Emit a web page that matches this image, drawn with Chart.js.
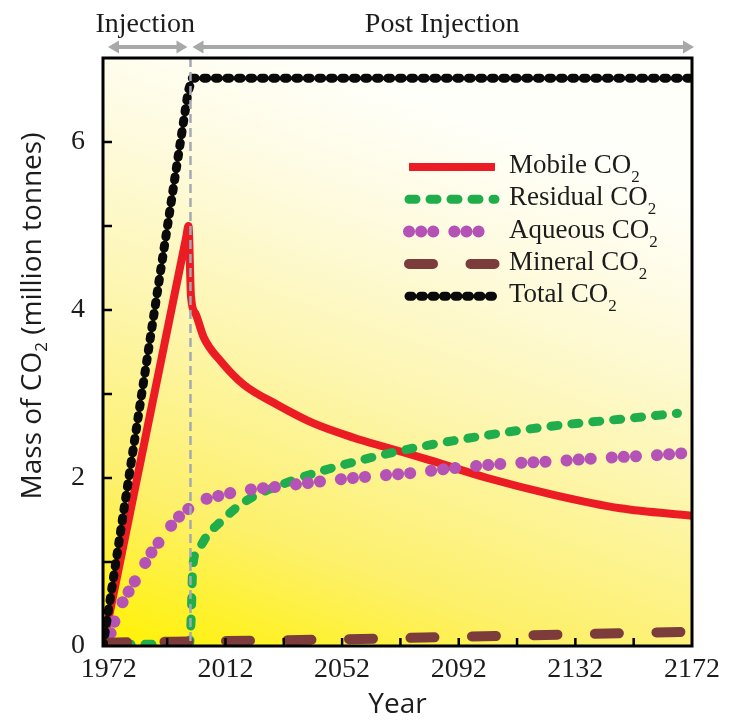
<!DOCTYPE html>
<html>
<head>
<meta charset="utf-8">
<script src="https://cdn.jsdelivr.net/npm/chart.js@4.4.1/dist/chart.umd.min.js"></script>
<style>
  html, body { margin: 0; padding: 0; background: #fff; }
</style>
</head>
<body>
<canvas id="chart" width="739" height="723"></canvas>
<script>
// Data (year, million tonnes)
const mobileYears  = [1970, 1980, 1990, 1998.6, 1999.3, 2000.2, 2001.8, 2004.6, 2010.4, 2018.3, 2029.9, 2042.3, 2056, 2067.6, 2082.3, 2101.8, 2124.5, 2147.4, 2172];
const mobileMass   = [0,    1.71, 3.41, 4.88,   5.0,    4.15,   3.95,   3.67,   3.39,   3.11,   2.87,   2.65,   2.48, 2.36,   2.21,   2.0,    1.80,   1.64,   1.55];

const residualYears = [1970, 1999.6, 2000.2, 2000.8, 2003, 2006, 2010.4, 2016.2, 2021.7, 2033.4, 2044.7, 2056, 2067.6, 2080, 2101.8, 2124.5, 2147.4, 2167];
const residualMass  = [0.02, 0.02,   0.3,    0.95,   1.17, 1.33, 1.48,   1.66,   1.78,   1.95,   2.08,   2.19, 2.29,   2.38, 2.51,   2.62,   2.70,   2.77];

const aqueousYears = [1970.5, 1972, 1975, 1978.5, 1982.3, 1986, 1989.5, 1995.5, 2000, 2003, 2010, 2018, 2028, 2040, 2050, 2062, 2076, 2091, 2108, 2125, 2142, 2159, 2171];
const aqueousMass  = [0.03,   0.1,  0.4,  0.63,   0.85,   1.08, 1.25,   1.52,   1.65, 1.72, 1.79, 1.85, 1.89, 1.94, 1.98, 2.02, 2.06, 2.12, 2.17, 2.20, 2.24, 2.27, 2.30];

const mineralYears = [1970, 2012, 2052, 2092, 2132, 2172];
const mineralMass  = [0.04, 0.06, 0.08, 0.11, 0.14, 0.17];

const totalYears = [1970, 1999.2, 2000.6, 2172];
const totalMass  = [0,    6.6,    6.76,   6.76];

const seriesNames = ['Mobile', 'Residual', 'Aqueous', 'Mineral', 'Total'];

const xTickYears  = [1972, 2012, 2052, 2092, 2132, 2172];
const xMinorYears = [1992, 2012, 2032, 2052, 2072, 2092, 2112, 2132, 2152];
const yTickValues = [0, 2, 4, 6];
const yMinorValues = [1, 2, 3, 4, 5, 6];

const injectionStart = 1970;
const injectionEnd = 2000;
const simulationEnd = 2172;

const toPoints = (xs, ys) => xs.map((x, i) => ({ x: x, y: ys[i] }));

const serif = '"Liberation Serif", "Times New Roman", serif';
const sans = '"Open Sans", "DejaVu Sans", sans-serif';
const textColor = '#1c1c1c';

// yellow wash behind the curves
const plotBackground = {
    id: 'plotBackground',
    beforeDatasetsDraw(chart) {
        const { ctx, chartArea: a } = chart;
        const g = ctx.createLinearGradient(a.left, a.bottom, a.left + a.width * 0.35, a.top);
        g.addColorStop(0, '#fff200');
        g.addColorStop(0.25, '#fdf06a');
        g.addColorStop(0.55, '#fdf6b2');
        g.addColorStop(0.8, '#fefbe0');
        g.addColorStop(1, '#fffffa');
        ctx.save();
        ctx.fillStyle = g;
        ctx.fillRect(a.left, a.top, a.width, a.height);
        ctx.restore();
    }
};

function drawArrow(ctx, x1, x2, y) {
    const head = 11, half = 6.5;
    ctx.beginPath();
    ctx.moveTo(x1 + head - 1, y);
    ctx.lineTo(x2 - head + 1, y);
    ctx.stroke();
    ctx.beginPath();
    ctx.moveTo(x1, y); ctx.lineTo(x1 + head, y - half); ctx.lineTo(x1 + head, y + half); ctx.closePath();
    ctx.fill();
    ctx.beginPath();
    ctx.moveTo(x2, y); ctx.lineTo(x2 - head, y - half); ctx.lineTo(x2 - head, y + half); ctx.closePath();
    ctx.fill();
}

function drawCO2(ctx, prefix, x, y, bigFont, smallFont, drop) {
    ctx.font = bigFont;
    ctx.fillText(prefix, x, y);
    const w = ctx.measureText(prefix).width;
    ctx.font = smallFont;
    ctx.fillText('2', x + w, y + drop);
    return w + ctx.measureText('2').width;
}

const overlay = {
    id: 'overlay',
    afterDraw(chart) {
        const { ctx, chartArea: a, scales: { x, y } } = chart;
        ctx.save();

        // end of injection
        const xi = x.getPixelForValue(injectionEnd);
        ctx.strokeStyle = '#a3a9b3';
        ctx.lineWidth = 2.5;
        ctx.setLineDash([9, 5]);
        ctx.beginPath();
        ctx.moveTo(xi, a.top);
        ctx.lineTo(xi, a.bottom);
        ctx.stroke();
        ctx.setLineDash([]);

        // inward ticks
        ctx.strokeStyle = '#000';
        ctx.lineWidth = 2.5;
        yMinorValues.forEach(v => {
            const py = y.getPixelForValue(v);
            ctx.beginPath(); ctx.moveTo(a.left, py); ctx.lineTo(a.left + 9, py); ctx.stroke();
        });
        xMinorYears.forEach(v => {
            const px = x.getPixelForValue(v);
            ctx.beginPath(); ctx.moveTo(px, a.bottom); ctx.lineTo(px, a.bottom - 8); ctx.stroke();
        });

        // frame
        ctx.lineWidth = 3;
        ctx.strokeRect(a.left, a.top, a.width, a.height);

        // legend
        const metas = chart.data.datasets;
        ctx.fillStyle = textColor;
        ctx.textBaseline = 'alphabetic';
        ctx.textAlign = 'left';
        seriesNames.forEach((name, i) => {
            const ds = metas[i];
            const base = 173 + i * 32.3;
            ctx.save();
            ctx.strokeStyle = ds.borderColor;
            ctx.lineWidth = ds.borderWidth;
            ctx.lineCap = ds.borderCapStyle || 'butt';
            ctx.setLineDash(ds.borderDash || []);
            ctx.beginPath();
            ctx.moveTo(409, base - 6);
            ctx.lineTo(495, base - 6);
            ctx.stroke();
            ctx.restore();
            drawCO2(ctx, name + ' CO', 509, base, '27px ' + serif, '17px ' + serif, 9);
        });

        // injection periods
        ctx.fillStyle = '#a8a8a8';
        ctx.strokeStyle = '#a8a8a8';
        ctx.lineWidth = 4;
        const xs = x.getPixelForValue(injectionStart) + 5;
        const xe = x.getPixelForValue(simulationEnd) + 2;
        drawArrow(ctx, xs, xi - 3, 47);
        drawArrow(ctx, xi + 2, xe, 47);
        ctx.fillStyle = textColor;
        ctx.font = '28px ' + serif;
        ctx.textAlign = 'center';
        ctx.fillText('Injection', (xs + xi) / 2 - 4, 32);
        ctx.fillText('Post Injection', (xi + xe) / 2, 32);

        // y axis title with subscript
        ctx.translate(41, 316);
        ctx.rotate(-Math.PI / 2);
        ctx.textAlign = 'left';
        const big = '28px ' + sans, small = '17px ' + sans;
        ctx.font = big;
        const w1 = ctx.measureText('Mass of CO').width;
        const w3 = ctx.measureText(' (million tonnes)').width;
        ctx.font = small;
        const w2 = ctx.measureText('2').width;
        let tx = -(w1 + w2 + w3) / 2;
        tx += drawCO2(ctx, 'Mass of CO', tx, 0, big, small, 6);
        ctx.font = big;
        ctx.fillText(' (million tonnes)', tx, 0);

        ctx.restore();
    }
};

const lineBase = {
    pointRadius: 0,
    fill: false,
    borderCapStyle: 'round',
    borderJoinStyle: 'round',
    cubicInterpolationMode: 'monotone'
};

new Chart(document.getElementById('chart'), {
    type: 'line',
    data: {
        datasets: [
            { ...lineBase, label: 'Mobile CO2', data: toPoints(mobileYears, mobileMass),
              borderColor: '#ec1c24', borderWidth: 8, borderCapStyle: 'butt', borderJoinStyle: 'miter', order: 5 },
            { ...lineBase, label: 'Residual CO2', data: toPoints(residualYears, residualMass),
              borderColor: '#20ad4b', borderWidth: 9, borderDash: [7, 14], order: 4 },
            { ...lineBase, label: 'Aqueous CO2', data: toPoints(aqueousYears, aqueousMass),
              borderColor: '#b552b5', borderWidth: 12, borderDash: [0.1, 12, 0.1, 12, 0.1, 21], order: 3 },
            { ...lineBase, label: 'Mineral CO2', data: toPoints(mineralYears, mineralMass),
              borderColor: '#7d3c3c', borderWidth: 10, borderDash: [24, 37.5], order: 2 },
            { ...lineBase, label: 'Total CO2', data: toPoints(totalYears, totalMass),
              borderColor: '#0a0a0a', borderWidth: 9, borderDash: [3, 8.5], cubicInterpolationMode: 'default', tension: 0, order: 1 }
        ]
    },
    options: {
        responsive: false,
        animation: false,
        layout: { padding: { top: 58, right: 47, left: 0, bottom: 0 } },
        plugins: {
            legend: { display: false },
            tooltip: { enabled: false }
        },
        scales: {
            x: {
                type: 'linear',
                min: injectionStart,
                max: simulationEnd,
                afterFit: s => { s.height = 77; },
                afterBuildTicks: s => { s.ticks = xTickYears.map(v => ({ value: v })); },
                grid: { display: false, drawTicks: false },
                border: { display: false },
                ticks: {
                    font: { family: serif, size: 28 },
                    color: textColor,
                    padding: 7,
                    maxRotation: 0,
                    autoSkip: false,
                    callback: v => String(v)
                },
                title: {
                    display: true,
                    text: 'Year',
                    font: { family: sans, size: 28 },
                    color: textColor,
                    padding: { top: 0, bottom: 1 }
                }
            },
            y: {
                type: 'linear',
                min: 0,
                max: 7,
                afterFit: s => { s.width = 103; },
                afterBuildTicks: s => { s.ticks = yTickValues.map(v => ({ value: v })); },
                grid: { display: false, drawTicks: false },
                border: { display: false },
                ticks: {
                    font: { family: serif, size: 28 },
                    color: textColor,
                    padding: 18,
                    callback: v => String(v)
                }
            }
        }
    },
    plugins: [plotBackground, overlay]
});
</script>
</body>
</html>
